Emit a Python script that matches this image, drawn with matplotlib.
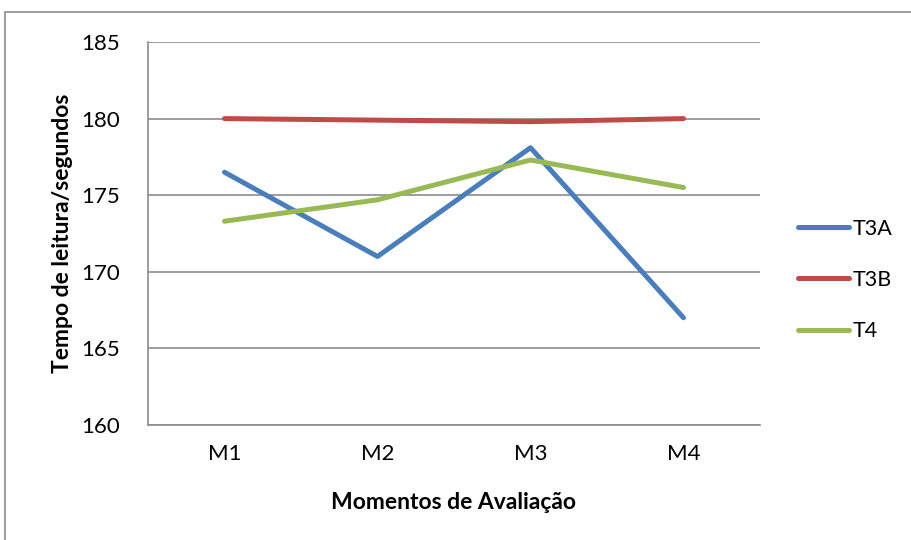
import matplotlib
matplotlib.use('Agg')
import matplotlib.pyplot as plt
from matplotlib.patches import Rectangle

plt.rcParams['font.family'] = ['Lato', 'DejaVu Sans']

# Reading time per evaluation moment
moments = ['M1', 'M2', 'M3', 'M4']
t3a = [176.5, 171.0, 178.1, 167.0]
t3b = [180.0, 179.9, 179.8, 180.0]
t4 = [173.3, 174.7, 177.3, 175.5]

series = {'T3A': t3a, 'T3B': t3b, 'T4': t4}
colors = {'T3A': '#4A7EBB', 'T3B': '#BE4B48', 'T4': '#98B954'}

fig = plt.figure(figsize=(9.12, 5.4), dpi=100)
ax = fig.add_axes([148 / 912, 1 - 425 / 540, 612 / 912, 383 / 540])

# outer chart frame (runs off the right and bottom edges)
fig.patches.append(Rectangle((5 / 912, -0.1), 1.2, 1.1 - 12 / 540, transform=fig.transFigure,
                             fill=False, edgecolor='#8C8C8C', linewidth=1.2))

x = range(len(moments))
for name, vals in series.items():
    ax.plot(x, vals, color=colors[name], linewidth=3.6, label=name,
            solid_capstyle='round', solid_joinstyle='round', zorder=3)

ax.set_xlim(-0.5, len(moments) - 0.5)
ax.set_ylim(160, 185)
ax.set_yticks(range(160, 186, 5))
ax.set_xticks(list(x))
ax.set_xticklabels(moments)
ax.yaxis.grid(True, color='#8C8C8C', linewidth=1.2)
ax.set_axisbelow(True)

for s in ['top', 'right']:
    ax.spines[s].set_visible(False)
for s in ['left', 'bottom']:
    ax.spines[s].set_color('#8C8C8C')
    ax.spines[s].set_linewidth(1.2)

ax.tick_params(axis='both', length=0, labelsize=16, colors='black')
ax.tick_params(axis='y', pad=20)
ax.tick_params(axis='x', pad=14)

ax.set_ylabel('Tempo de leitura/segundos', fontsize=16.5, fontweight='bold', labelpad=6)
ax.set_xlabel('Momentos de Avaliação', fontsize=16.5, fontweight='bold', labelpad=20)

ax.legend(loc='center left', bbox_to_anchor=(1.03, 0.379), frameon=False, fontsize=15.5,
          handlelength=2.4, handletextpad=0.15, labelspacing=1.45)

fig.savefig('out.png', dpi=100)
